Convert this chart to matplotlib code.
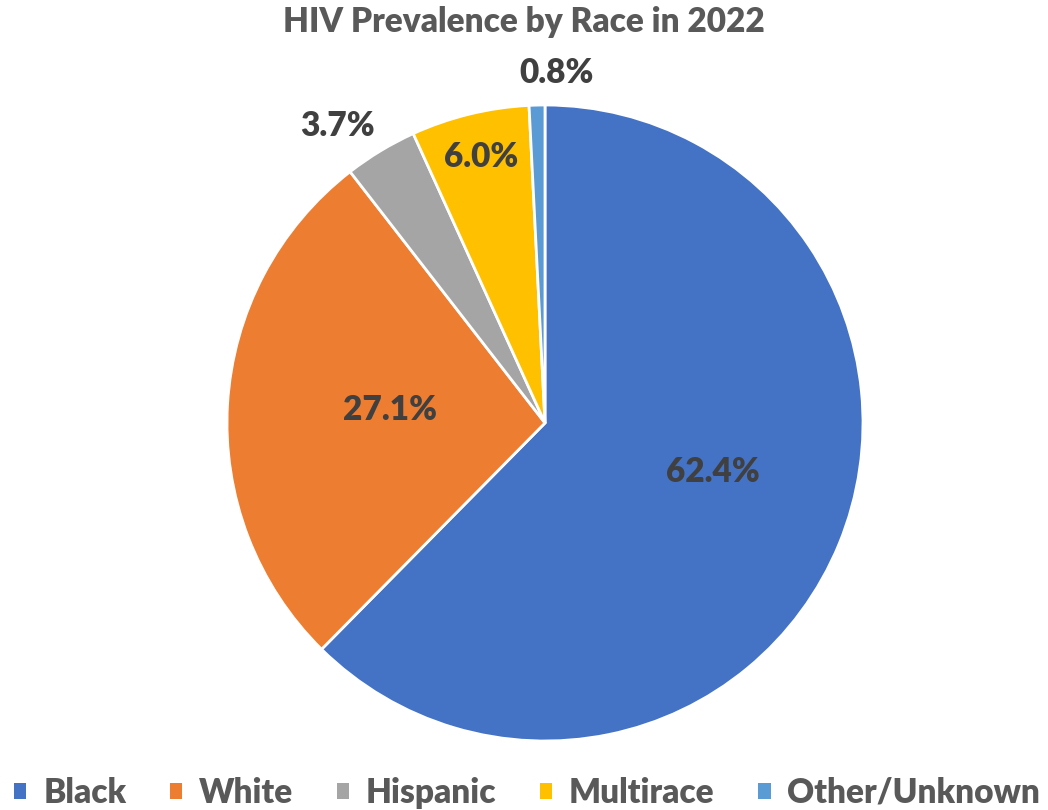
import math
import matplotlib
matplotlib.use("Agg")
import matplotlib.pyplot as plt
from matplotlib.patches import Patch

plt.rcParams["font.family"] = ["Lato", "DejaVu Sans"]

title = "HIV Prevalence by Race in 2022"
categories = ["Black", "White", "Hispanic", "Multirace", "Other/Unknown"]
shares = [62.4, 27.1, 3.7, 6.0, 0.8]
colors = ["#4472C4", "#ED7D31", "#A5A5A5", "#FFC000", "#5B9BD5"]

# label placement: distance from centre (in radii) and angular nudge (deg)
label_radius = [0.55, 0.49, 1.14, 0.86, 1.10]
label_nudge = [6.0, -1.4, 3.8, -0.2, -3.4]

W, H = 1048, 810
fig = plt.figure(figsize=(W / 100, H / 100), dpi=100)
cx, cy, r = 545, 423, 318
ax = fig.add_axes([(cx - r) / W, (H - cy - r) / H, 2 * r / W, 2 * r / H])

wedges, _ = ax.pie(
    shares, colors=colors, startangle=90, counterclock=False, radius=1.0,
    wedgeprops=dict(edgecolor="white", linewidth=2.0),
)
ax.set_xlim(-1, 1)
ax.set_ylim(-1, 1)
ax.set_aspect("equal")
ax.axis("off")

for w, v, rad, nud in zip(wedges, shares, label_radius, label_nudge):
    mid = math.radians((w.theta1 + w.theta2) / 2 + nud)
    ax.text(rad * math.cos(mid), rad * math.sin(mid), f"{v:.1f}%",
            ha="center", va="center", fontsize=24, fontweight="heavy",
            color="#404040", clip_on=False)

fig.text(0.5, 1 - 22 / H, title, ha="center", va="center",
         fontsize=24, fontweight="heavy", color="#595959")

handles = [Patch(facecolor=c, edgecolor="none") for c in colors]
fig.legend(handles, categories, loc="center", bbox_to_anchor=(527 / W, 1 - 793 / H),
           ncol=5, frameon=False, handlelength=0.38, borderpad=0.0,
           handleheight=0.38, handletextpad=0.5, columnspacing=1.3,
           labelcolor="#595959", prop=dict(weight="heavy", size=24))

fig.savefig("out.png", dpi=100)
